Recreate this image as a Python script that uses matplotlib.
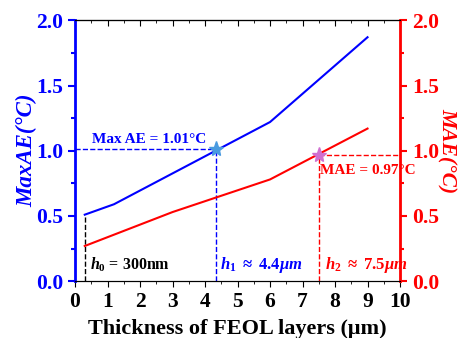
import matplotlib.pyplot as plt
from matplotlib.ticker import MultipleLocator

plt.rcParams['font.family'] = 'Liberation Serif'
plt.rcParams['font.weight'] = 'bold'
plt.rcParams['mathtext.fontset'] = 'custom'
plt.rcParams['mathtext.it'] = 'Liberation Serif:italic:bold'
plt.rcParams['mathtext.rm'] = 'Liberation Serif:bold'
plt.rcParams['mathtext.bf'] = 'Liberation Serif:bold'

# data
x_max = [0.3, 1.2, 6.0, 9.0]
max_ae = [0.51, 0.59, 1.22, 1.87]
x_mae = [0.3, 3.0, 6.0, 9.0]
mae = [0.27, 0.53, 0.78, 1.17]
h0, h0_val = 0.3, 0.51
h1, h1_val = 4.35, 1.01
h2, h2_val = 7.5, 0.97

fig, ax = plt.subplots(figsize=(4.63, 3.38), dpi=100)
fig.subplots_adjust(left=0.162, right=0.864, top=0.94, bottom=0.168)
ax2 = ax.twinx()

ax.plot(x_max, max_ae, color='blue', lw=1.5)
ax2.plot(x_mae, mae, color='red', lw=1.5)

# guide lines
ax.plot([h0, h0], [0, h0_val], 'k--', lw=1)
ax.plot([0, h1], [h1_val, h1_val], '--', color='blue', lw=1)
ax.plot([h1, h1], [0, h1_val], '--', color='blue', lw=1)
ax2.plot([h2, 10], [h2_val, h2_val], '--', color='red', lw=1)
ax2.plot([h2, h2], [0, h2_val], '--', color='red', lw=1)

ax.plot(h1, h1_val, marker='*', color='#4a9be0', ms=11, zorder=5)
ax2.plot(h2, h2_val, marker='*', color='#d070d0', ms=11, zorder=5)

ax.text(0.52, 1.06, 'Max AE = 1.01°C', color='blue', fontsize=11, fontweight='bold')
ax2.text(7.55, 0.82, 'MAE = 0.97°C', color='red', fontsize=11, fontweight='bold')
ax.text(0.45, 0.09, r'$h_0$ = 300nm', color='black', fontsize=11.5)
ax.text(4.45, 0.09, r'$h_1\ \approx\ 4.4\mu m$', color='blue', fontsize=12)
ax.text(7.7, 0.09, r'$h_2\ \approx\ 7.5\mu m$', color='red', fontsize=12)

for a in (ax, ax2):
    a.set_xlim(0, 10)
    a.set_ylim(0, 2)
    a.yaxis.set_major_locator(MultipleLocator(0.5))
    a.yaxis.set_minor_locator(MultipleLocator(0.25))
ax.xaxis.set_major_locator(MultipleLocator(1))
ax.xaxis.set_minor_locator(MultipleLocator(0.5))

# top axis with inward ticks
top = ax.secondary_xaxis('top')
top.xaxis.set_major_locator(MultipleLocator(1))
top.xaxis.set_minor_locator(MultipleLocator(0.5))
top.tick_params(which='both', direction='in', labeltop=False, length=4)
top.tick_params(which='minor', length=2.5)

ax.spines['left'].set_color('blue')
ax.spines['left'].set_linewidth(2)
ax2.spines['right'].set_color('red')
ax2.spines['right'].set_linewidth(2)
ax2.spines['left'].set_visible(False)

ax.tick_params(axis='y', colors='blue', labelsize=15.5, width=1.5, length=5)
ax.tick_params(axis='y', which='minor', colors='blue', width=1.5, length=3)
ax2.tick_params(axis='y', colors='red', labelsize=15.5, width=1.5, length=5)
ax2.tick_params(axis='y', which='minor', colors='red', width=1.5, length=3)
ax.tick_params(axis='x', labelsize=15.5, length=4, direction='out')
ax.tick_params(axis='x', which='minor', length=2.5)

ax.set_xlabel('Thickness of FEOL layers (μm)', fontsize=16, fontweight='bold', labelpad=5)
ax.set_ylabel('MaxAE(°C)', fontsize=16.5, color='blue', style='italic', fontweight='bold',
              labelpad=-1)
ax2.set_ylabel('MAE(°C)', fontsize=15.5, color='red', style='italic', fontweight='bold',
               rotation=270, labelpad=13)

plt.savefig('out.png', dpi=100)
